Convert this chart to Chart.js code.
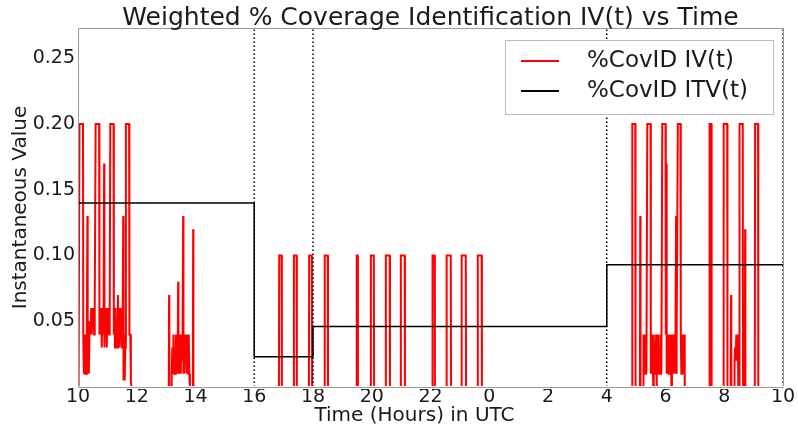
<!DOCTYPE html>
<html>
<head>
<meta charset="utf-8">
<title>Weighted % Coverage Identification IV(t) vs Time</title>
<script src="https://cdn.jsdelivr.net/npm/chart.js@4.4.0/dist/chart.umd.min.js"></script>
<style>
  html, body { margin: 0; padding: 0; background: #fff; }
</style>
</head>
<body>
<canvas id="myChart" width="798" height="430"></canvas>
<script>
// time axis is in hours since 00:00 of day 1, so 24..34 is the next morning
const xTickValues = [10, 12, 14, 16, 18, 20, 22, 24, 26, 28, 30, 32, 34];
const xTickLabels = ["10", "12", "14", "16", "18", "20", "22", "0", "2", "4", "6", "8", "10"];
const yTickValues = [0.05, 0.10, 0.15, 0.20, 0.25];

// %CovID IV(t) : instantaneous value
const ivTimes = [
  // 10h - 12h burst
  10.00, 10.01, 10.03, 10.05, 10.17, 10.18, 10.20, 10.22, 10.24, 10.26, 10.28, 10.30,
  10.32, 10.33, 10.35, 10.37, 10.39, 10.41, 10.43, 10.45, 10.47, 10.49, 10.51, 10.53,
  10.55, 10.57, 10.60, 10.72, 10.73, 10.75, 10.77, 10.79, 10.81, 10.83, 10.85, 10.87,
  10.89, 10.90, 10.92, 10.94, 10.96, 10.98, 11.00, 11.02, 11.04, 11.06, 11.08, 11.10,
  11.21, 11.22, 11.24, 11.26, 11.28, 11.30, 11.32, 11.34, 11.36, 11.38, 11.40, 11.42,
  11.44, 11.46, 11.48, 11.50, 11.52, 11.54, 11.55, 11.57, 11.59, 11.61, 11.63, 11.74,
  11.75, 11.78, 11.80, 11.82,
  // 13h - 14h burst
  13.09, 13.10, 13.11, 13.18, 13.19, 13.21, 13.23, 13.25, 13.27, 13.29, 13.31, 13.33,
  13.35, 13.37, 13.39, 13.41, 13.42, 13.44, 13.46, 13.48, 13.50, 13.52, 13.54, 13.56,
  13.58, 13.59, 13.61, 13.63, 13.65, 13.67, 13.69, 13.71, 13.73, 13.75, 13.77, 13.79,
  13.81, 13.91, 13.92, 13.93,
  // single pulses 17h - 0h
  16.84, 16.85, 16.93, 16.94, 17.34, 17.35, 17.44, 17.45, 17.86, 17.87, 17.96, 17.97,
  18.39, 18.40, 18.50, 18.51, 19.48, 19.49, 19.52, 19.53, 19.96, 19.97, 20.07, 20.08,
  20.47, 20.48, 20.61, 20.62, 20.98, 20.99, 21.12, 21.13, 22.06, 22.07, 22.14, 22.15,
  22.54, 22.55, 22.69, 22.70, 23.05, 23.06, 23.20, 23.21, 23.60, 23.61, 23.74, 23.75,
  // 5h - 9h burst (next day)
  28.86, 28.87, 28.97, 28.98, 29.13, 29.14, 29.15, 29.24, 29.25, 29.27, 29.29, 29.31,
  29.33, 29.35, 29.38, 29.49, 29.50, 29.52, 29.54, 29.56, 29.58, 29.60, 29.62, 29.64,
  29.66, 29.68, 29.70, 29.72, 29.74, 29.76, 29.78, 29.80, 29.82, 29.84, 29.86, 29.89,
  30.00, 30.01, 30.03, 30.04, 30.06, 30.08, 30.10, 30.12, 30.14, 30.16, 30.18, 30.20,
  30.22, 30.24, 30.26, 30.28, 30.30, 30.32, 30.34, 30.36, 30.37, 30.39, 30.42, 30.51,
  30.52, 30.54, 30.56, 30.58, 30.60, 30.62, 30.64, 30.65, 30.66,
  31.49, 31.50, 31.56, 31.57, 31.97, 31.98, 32.10, 32.11, 32.22, 32.23, 32.24, 32.34,
  32.35, 32.37, 32.39, 32.41, 32.43, 32.45, 32.47, 32.48, 32.51, 32.52, 32.63, 32.64,
  32.70, 32.71, 32.72, 33.04, 33.05, 33.15, 33.16, 34.00
];
const ivValues = [
  0, 0.13, 0, 0.20, 0.20, 0.04, 0.01, 0.04, 0.01, 0.04, 0.01, 0.04,
  0.13, 0.01, 0.05, 0.01, 0.04, 0.05, 0.04, 0.06, 0.04, 0.06, 0.05, 0.06,
  0.04, 0.06, 0.20, 0.20, 0.04, 0.06, 0.04, 0.06, 0.03, 0.06, 0.04, 0.06,
  0.17, 0.03, 0.06, 0.04, 0.06, 0.03, 0.06, 0.04, 0.06, 0.04, 0.06, 0.20,
  0.20, 0.04, 0.06, 0.03, 0.06, 0.04, 0.05, 0.03, 0.07, 0.04, 0.06, 0.03,
  0.06, 0.04, 0.05, 0.03, 0.05, 0.13, 0.005, 0.04, 0.005, 0.03, 0.20, 0.20,
  0.04, 0.04, 0.005, 0,
  0, 0.07, 0, 0, 0.01, 0.03, 0.01, 0.04, 0.01, 0.03, 0.01, 0.04,
  0.02, 0.04, 0.01, 0.08, 0.01, 0.04, 0.01, 0.03, 0.01, 0.04, 0.02, 0.04,
  0.13, 0.01, 0.04, 0.01, 0.04, 0.02, 0.04, 0.01, 0.04, 0.01, 0.04, 0.01,
  0, 0, 0.12, 0,
  0, 0.10, 0.10, 0, 0, 0.10, 0.10, 0, 0, 0.10, 0.10, 0,
  0, 0.10, 0.10, 0, 0, 0.10, 0.10, 0, 0, 0.10, 0.10, 0,
  0, 0.10, 0.10, 0, 0, 0.10, 0.10, 0, 0, 0.10, 0.10, 0,
  0, 0.10, 0.10, 0, 0, 0.10, 0.10, 0, 0, 0.10, 0.10, 0,
  0, 0.20, 0.20, 0, 0, 0.13, 0, 0, 0.04, 0.01, 0.04, 0.01,
  0.04, 0.01, 0.20, 0.20, 0.01, 0.04, 0.01, 0.04, 0, 0.04, 0.01, 0.03,
  0.01, 0.04, 0, 0.04, 0.01, 0.04, 0.01, 0.03, 0.01, 0.04, 0.01, 0.20,
  0.20, 0.04, 0.17, 0.01, 0.03, 0.01, 0.04, 0.01, 0.04, 0.01, 0.04, 0,
  0.04, 0.01, 0.04, 0.01, 0.04, 0.01, 0.04, 0.13, 0.01, 0.04, 0.20, 0.20,
  0.04, 0.01, 0.04, 0.01, 0.04, 0.01, 0.04, 0.01, 0,
  0, 0.20, 0.20, 0, 0, 0.20, 0.20, 0, 0, 0.07, 0, 0,
  0.02, 0.03, 0.02, 0.04, 0.02, 0.04, 0.02, 0, 0, 0.20, 0.20, 0,
  0, 0.12, 0, 0, 0.20, 0.20, 0, 0
];

// %CovID ITV(t) : value held from each time until the next one
const itvTimes = [10, 16, 18, 28, 34];
const itvValues = [0.14, 0.023, 0.046, 0.093, 0.093];

// dotted separators
const markerTimes = [16, 18, 28, 34];
const yMax = 0.273;

const FONT = "'DejaVu Sans', sans-serif";
const TEXT = "#1a1a1a";
const SPINE = "#9a9a9a";

const ivData = ivTimes.map((t, i) => ({ x: t, y: ivValues[i] }));
const itvData = itvTimes.map((t, i) => ({ x: t, y: itvValues[i] }));

const markerSets = markerTimes.map((t) => ({
  label: "",
  data: [{ x: t, y: 0 }, { x: t, y: yMax }],
  borderColor: "#000",
  borderWidth: 1.5,
  borderDash: [1.5, 2.5],
  pointRadius: 0,
  order: 1,
}));

// grey box around the plot, titles and in-plot legend
const decorations = {
  id: "decorations",
  beforeDatasetsDraw(chart) {
    const { ctx, chartArea: a } = chart;
    ctx.save();
    ctx.strokeStyle = SPINE;
    ctx.lineWidth = 1;
    ctx.beginPath();
    ctx.moveTo(a.right + 0.5, a.top);
    ctx.lineTo(a.right + 0.5, a.bottom);
    ctx.stroke();
    ctx.restore();
  },
  afterDatasetsDraw(chart) {
    // spines sit on top of the zero-level red line, like the original
    const { ctx, chartArea: a } = chart;
    ctx.save();
    ctx.fillStyle = "#fff";
    ctx.fillRect(a.left + 1, a.bottom - 1, a.right - a.left, 3);
    ctx.strokeStyle = SPINE;
    ctx.lineWidth = 1;
    ctx.beginPath();
    ctx.moveTo(a.right, a.top + 0.5);
    ctx.lineTo(a.left + 0.5, a.top + 0.5);
    ctx.lineTo(a.left + 0.5, a.bottom + 0.5);
    ctx.lineTo(a.right + 0.5, a.bottom + 0.5);
    ctx.stroke();
    ctx.restore();
  },
  afterDraw(chart) {
    const { ctx, chartArea: a } = chart;
    ctx.save();
    ctx.fillStyle = TEXT;
    ctx.font = "25px " + FONT;
    ctx.textAlign = "center";
    ctx.textBaseline = "alphabetic";
    ctx.fillText("Weighted % Coverage Identification IV(t) vs Time", (a.left + a.right) / 2, 25);

    // x axis title sits a little left of centre in the original
    ctx.font = "20px " + FONT;
    ctx.textBaseline = "middle";
    ctx.fillText("Time (Hours) in UTC", (a.left + a.right) / 2 - 16, 416);

    // legend box
    const items = chart.data.datasets.filter((d) => d.label);
    const bw = 268, bh = 74;
    const bx = a.right - 10 - bw, by = a.top + 12;
    ctx.fillStyle = "#fff";
    ctx.fillRect(bx, by, bw, bh);
    ctx.strokeStyle = "#bbb";
    ctx.lineWidth = 1;
    ctx.strokeRect(bx + 0.5, by + 0.5, bw, bh);
    ctx.font = "23px " + FONT;
    ctx.textAlign = "left";
    ctx.textBaseline = "middle";
    items.forEach((d, i) => {
      const y = by + 21 + i * 30;
      ctx.strokeStyle = d.borderColor;
      ctx.lineWidth = 2;
      ctx.beginPath();
      ctx.moveTo(bx + 16, y);
      ctx.lineTo(bx + 54, y);
      ctx.stroke();
      ctx.fillStyle = TEXT;
      ctx.fillText(d.label, bx + 82, y);
    });
    ctx.restore();
  },
};

const ctx = document.getElementById("myChart").getContext("2d");

const myChart = new Chart(ctx, {
  type: "line",
  data: {
    datasets: [
      {
        label: "%CovID IV(t)",
        data: ivData,
        borderColor: "#ff0000",
        borderWidth: 2,
        pointRadius: 0,
        tension: 0,
        clip: 0,
        order: 3,
      },
      {
        label: "%CovID ITV(t)",
        data: itvData,
        borderColor: "#000000",
        borderWidth: 1.5,
        pointRadius: 0,
        stepped: "before",
        order: 2,
      },
      ...markerSets,
    ],
  },
  options: {
    responsive: false,
    animation: false,
    layout: { padding: { top: 28, right: 15, left: 0, bottom: 0 } },
    plugins: {
      legend: { display: false },
      title: { display: false },
      tooltip: { enabled: false },
    },
    scales: {
      x: {
        type: "linear",
        min: 10,
        max: 34,
        afterBuildTicks: (scale) => {
          scale.ticks = xTickValues.map((v) => ({ value: v }));
        },
        afterFit: (scale) => {
          scale.height = 43;
        },
        ticks: {
          callback: (value) => xTickLabels[xTickValues.indexOf(value)],
          font: { family: FONT, size: 19, lineHeight: 1 },
          color: TEXT,
          padding: 1,
          maxRotation: 0,
          autoSkip: false,
        },
        grid: { display: false, drawTicks: false },
        border: { display: false },
      },
      y: {
        min: 0,
        max: yMax,
        afterBuildTicks: (scale) => {
          scale.ticks = yTickValues.map((v) => ({ value: v }));
        },
        afterFit: (scale) => {
          scale.width = 78;
        },
        ticks: {
          callback: (value) => value.toFixed(2),
          font: { family: FONT, size: 19 },
          color: TEXT,
          padding: 3,
        },
        grid: { display: false, drawTicks: false },
        border: { display: false },
        title: {
          display: true,
          text: "Instantaneous Value",
          font: { family: FONT, size: 20 },
          color: TEXT,
          padding: { top: 9, bottom: 0 },
        },
      },
    },
  },
  plugins: [decorations],
});
</script>
</body>
</html>
